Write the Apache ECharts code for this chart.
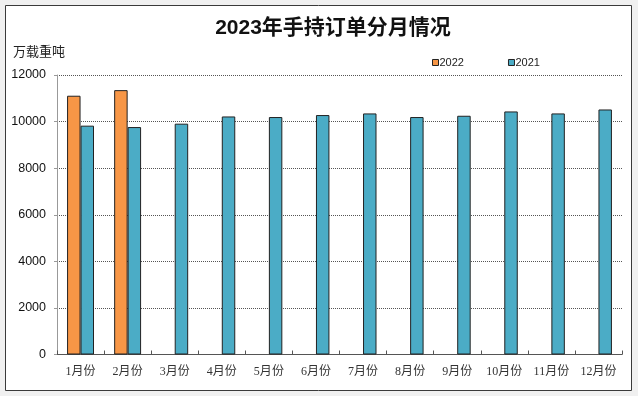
<!DOCTYPE html>
<html>
<head>
<meta charset="utf-8">
<script src="https://cdn.jsdelivr.net/npm/echarts@6/dist/echarts.min.js"></script>
<style>
html,body{margin:0;padding:0;background:#f0f0f0;}
#c{width:638px;height:396px;}
</style>
</head>
<body>
<div id="c"></div>
<script>
const categories = ['1月份','2月份','3月份','4月份','5月份','6月份','7月份','8月份','9月份','10月份','11月份','12月份'];
const values2022 = [11110, 11350, null, null, null, null, null, null, null, null, null, null];
const values2021 = [9825, 9765, 9910, 10220, 10195, 10280, 10350, 10195, 10250, 10435, 10350, 10520];
const seriesNames = ['2022', '2021'];
const yTicks = { min: 0, max: 12000, interval: 2000 };

const chart = echarts.init(document.getElementById('c'), null, {renderer: 'canvas'});
const sans = '"Liberation Sans", "Noto Sans CJK SC", sans-serif';
const serif = '"Liberation Serif", "Noto Sans CJK SC", serif';
chart.setOption({
  backgroundColor: '#f0f0f0',
  animation: false,
  graphic: [{
    type: 'rect', z: -10, silent: true,
    shape: {x: 5.5, y: 5.5, width: 626, height: 385},
    style: {fill: '#ffffff', stroke: '#3a3a3a', lineWidth: 1}
  }, {
    type: 'text', left: 13, top: 46,
    style: {text: '万载重吨', font: '13px ' + sans, fill: '#222'}
  }],
  title: {
    text: '2023年手持订单分月情况',
    left: 328, top: 13, textAlign: 'center',
    textStyle: {fontSize: 21, fontWeight: 'bold', color: '#111', fontFamily: sans}
  },
  legend: {
    left: 427, top: 52,
    itemWidth: 6, itemHeight: 6, itemGap: 44,
    icon: 'rect',
    itemStyle: {borderColor: '#222', borderWidth: 1},
    textStyle: {fontSize: 11, color: '#222', fontFamily: sans, padding: [0, 0, 0, -4]},
    data: seriesNames
  },
  grid: {left: 57, right: 16, top: 75, bottom: 41.5},
  xAxis: {
    type: 'category',
    data: categories,
    axisLine: {lineStyle: {color: '#555', width: 1}},
    axisTick: {show: true, inside: true, length: 4, lineStyle: {color: '#555'}},
    axisLabel: {fontSize: 12, color: '#333', fontFamily: serif, margin: 11},
    splitLine: {show: false}
  },
  yAxis: {
    type: 'value',
    min: yTicks.min, max: yTicks.max, interval: yTicks.interval,
    axisLine: {show: true, lineStyle: {color: '#999'}},
    axisTick: {show: true, length: 3, lineStyle: {color: '#999'}},
    axisLabel: {fontSize: 12.5, color: '#111', fontFamily: sans, margin: 11,
      formatter: function (v) { return String(v); }},
    splitLine: {show: true, lineStyle: {color: '#555', type: [1, 1], width: 1}}
  },
  series: [{
    name: seriesNames[0], type: 'bar', data: values2022,
    barWidth: '28.6%', barGap: '0%',
    itemStyle: {color: '#F79646', borderColor: '#222', borderWidth: 1}
  }, {
    name: seriesNames[1], type: 'bar', data: values2021,
    barWidth: '28.6%', barGap: '0%',
    itemStyle: {color: '#4BACC6', borderColor: '#222', borderWidth: 1}
  }]
});
</script>
</body>
</html>
